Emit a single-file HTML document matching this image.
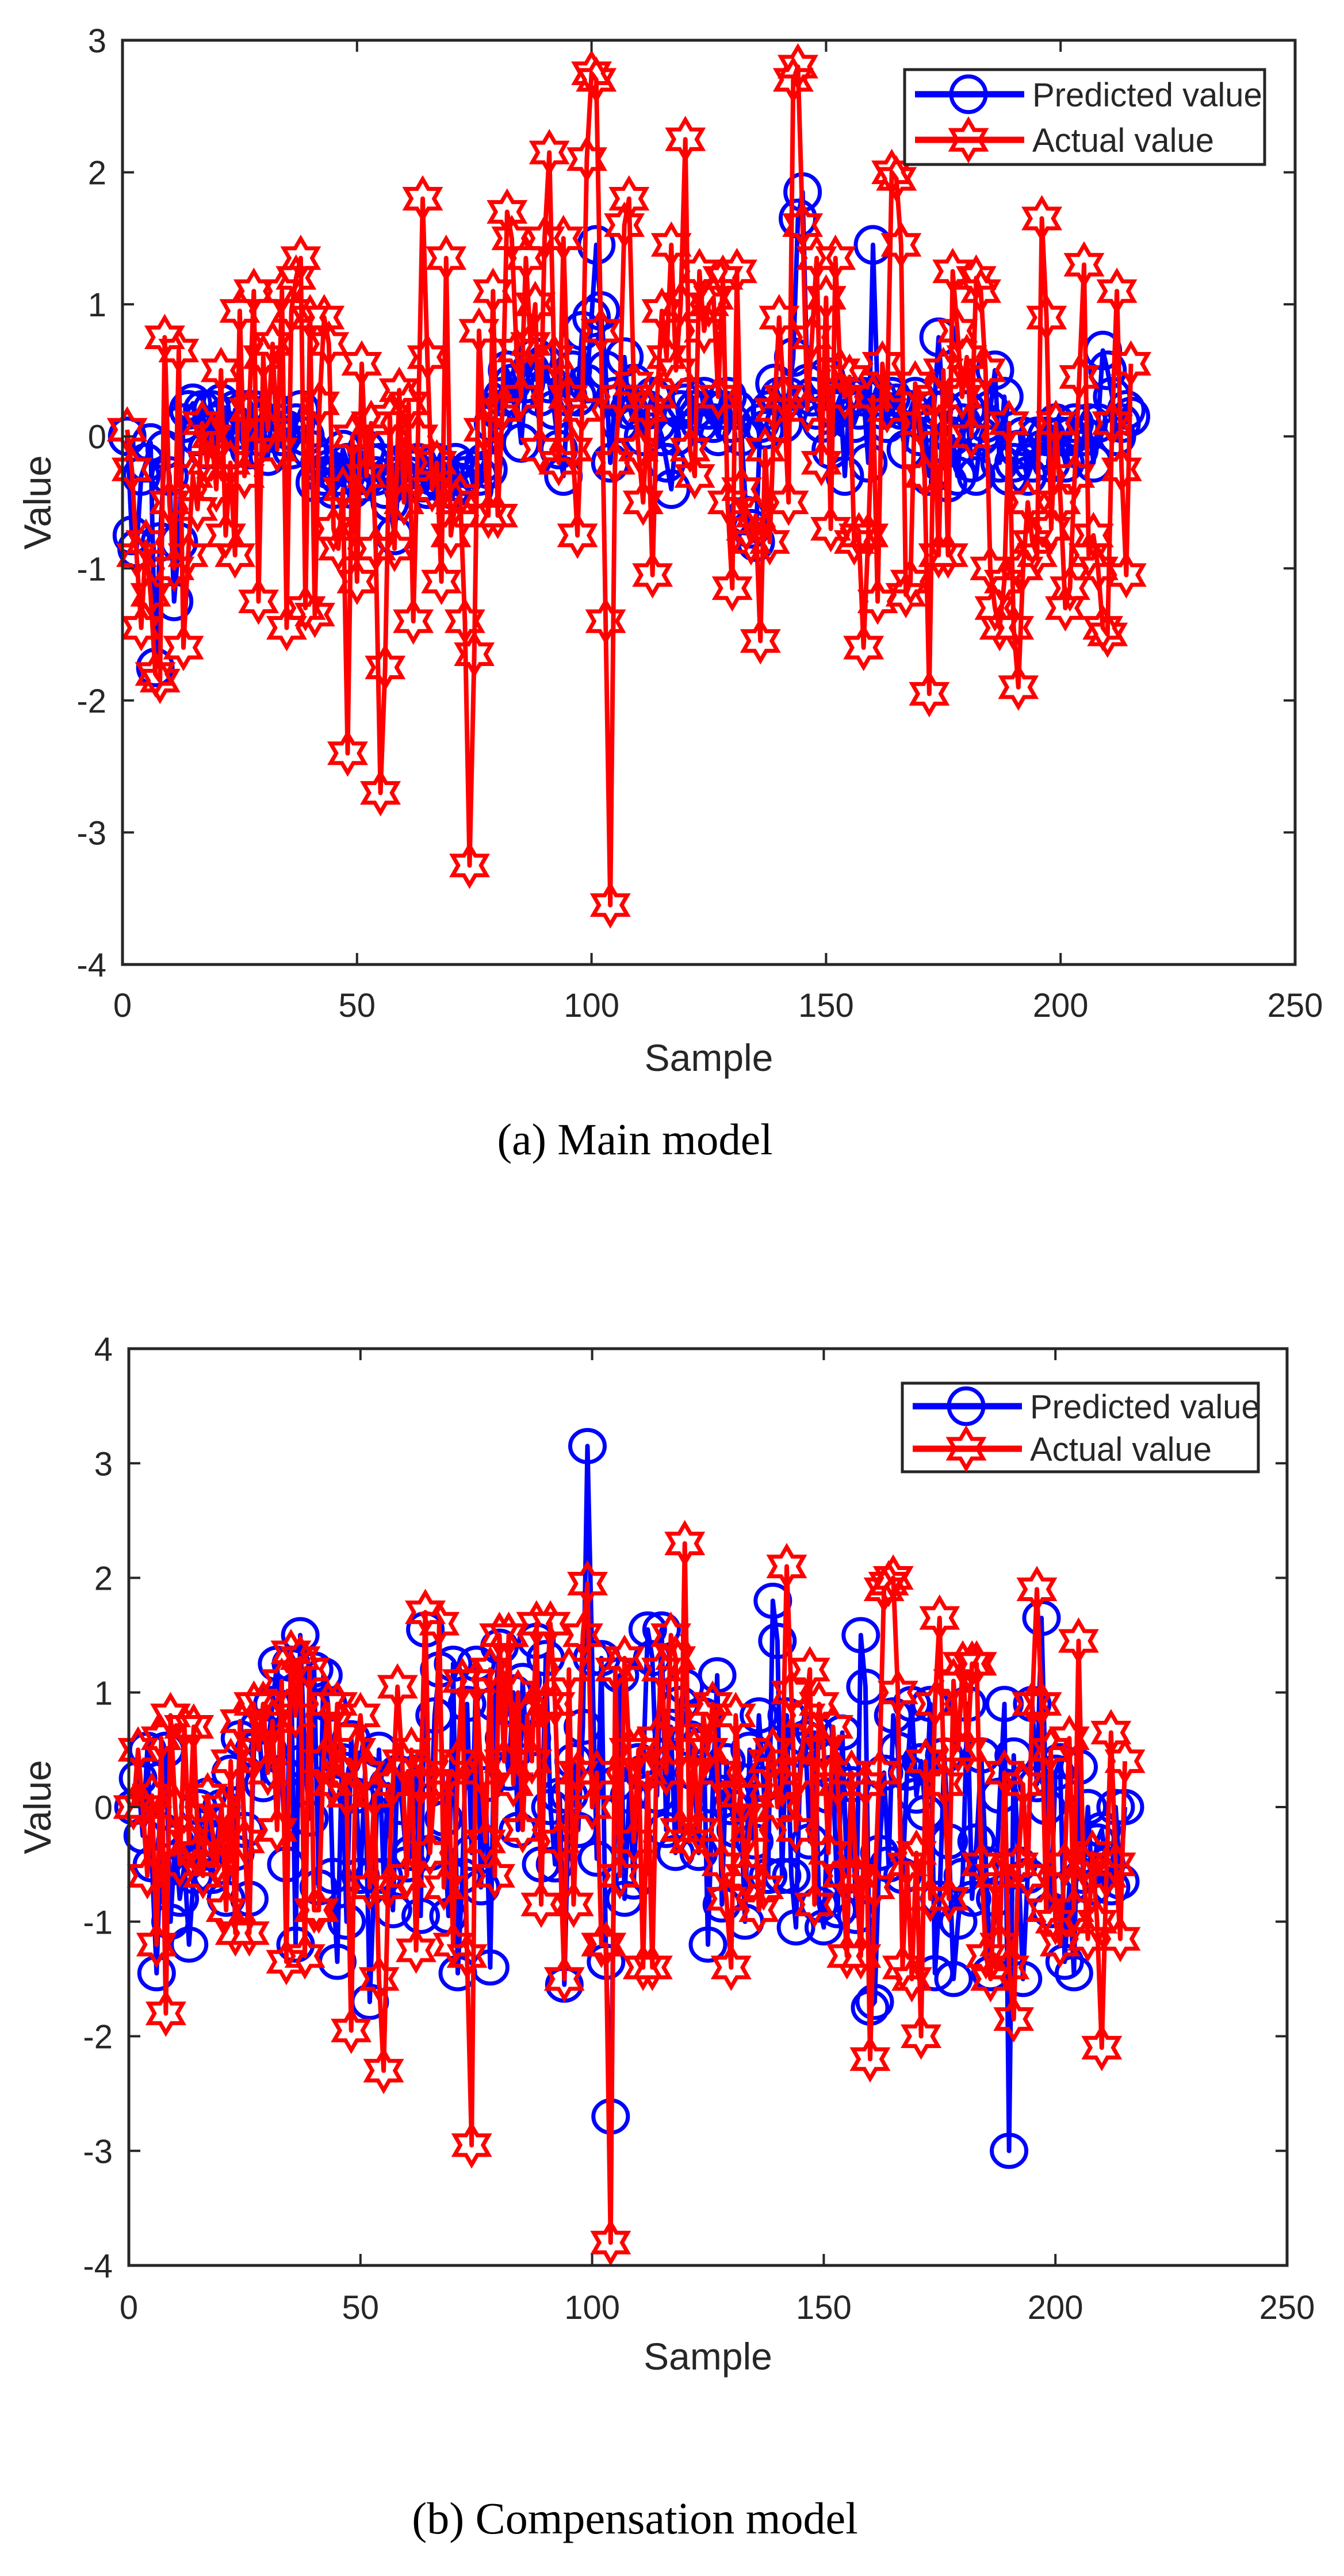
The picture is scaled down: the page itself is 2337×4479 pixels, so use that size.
<!DOCTYPE html>
<html><head><meta charset="utf-8"><style>
html,body{margin:0;padding:0;background:#fff;}
svg{display:block;}
text{font-family:"Liberation Sans",Arial,sans-serif;fill:#262626;}
.cap{font-family:"Liberation Serif","Times New Roman",serif;fill:#000;}
</style></head><body>
<svg id="fig" xmlns="http://www.w3.org/2000/svg" width="2337" height="4479" viewBox="0 0 2337 4479">
<rect x="0" y="0" width="2337" height="4479" fill="#fff"/>
<g id="chartA"></g>
<g id="chartB"></g>
<text class="cap" x="1104" y="2007" font-size="77" text-anchor="middle">(a) Main model</text>
<text class="cap" x="1104" y="4405" font-size="78" text-anchor="middle">(b) Compensation model</text>
</svg>
<script>
const xTicks = [0,50,100,150,200,250];
const yTicksA = [-4,-3,-2,-1,0,1,2,3];
const yTicksB = [-4,-3,-2,-1,0,1,2,3,4];
const legendLabels = ["Predicted value","Actual value"];

const actualA = [0.05,-0.25,-0.9,-1.45,-0.8,-1.2,-1.8,-1.85,0.75,-0.5,-1.0,0.65,-1.6,-0.9,-0.3,-0.55,0.1,-0.2,0.0,-0.4,
0.5,-0.75,-0.2,-0.9,0.95,-0.3,0.2,1.1,-1.25,0.6,0.05,0.7,-0.1,1.1,-1.45,0.95,1.2,1.35,-1.3,0.9,
-1.35,0.25,0.9,0.7,-0.7,-0.85,-0.4,-2.4,0.0,-1.1,0.55,-0.3,0.1,-0.85,-2.7,-1.75,0.15,-0.85,0.35,-0.5,
0.25,-1.4,0.0,1.8,0.6,-0.4,-0.2,-1.1,1.35,-0.75,-0.5,-0.45,-1.4,-3.25,-1.65,0.8,0.05,-0.6,1.1,-0.6,
0.2,1.7,1.5,0.65,0.3,1.35,0.7,1.0,-0.1,1.5,2.15,0.6,-0.2,1.5,0.3,-0.1,-0.75,0.2,2.1,2.75,
2.7,0.8,-1.4,-3.55,-0.2,0.3,1.6,1.8,0.4,-0.1,-0.5,0.2,-1.05,0.3,0.95,0.6,1.45,0.5,1.0,2.25,
-0.1,-0.3,1.25,0.8,1.0,1.05,0.3,1.2,-0.5,-1.15,1.25,-0.4,-0.7,-0.8,-0.6,-1.55,-0.1,-0.8,0.2,0.9,
0.3,-0.5,2.7,2.8,1.6,0.2,0.75,1.35,-0.2,1.05,-0.7,1.35,0.5,0.3,0.45,-0.8,-0.75,-1.6,-0.75,0.3,
-1.25,0.55,0.2,2.0,1.95,1.45,-1.2,-1.1,0.4,0.1,-0.3,-1.95,0.3,-0.9,0.5,-0.9,1.25,0.8,0.3,0.6,
0.0,1.2,1.1,0.5,-1.0,-1.3,-1.45,-1.1,0.1,-1.45,-1.9,-1.0,-0.5,-0.8,-0.9,1.65,0.9,-0.7,0.1,-0.5,
-1.3,-1.15,-0.3,0.45,1.3,-0.9,-0.75,-1.0,-1.45,-1.5,0.1,1.1,-0.25,-1.05,0.55];

const predA = [0.0,-0.75,-0.85,-0.3,-0.2,-0.05,-1.75,-0.8,-0.1,-0.3,-1.25,-0.8,0.1,0.2,0.25,0.0,0.2,-0.1,0.2,0.1,
0.25,0.15,-0.1,0.2,0.05,0.2,-0.1,0.2,0.0,0.1,-0.15,0.2,0.1,0.0,0.05,-0.1,0.1,0.2,0.0,-0.1,
-0.35,-0.2,-0.3,-0.25,-0.4,-0.3,-0.1,-0.2,-0.4,-0.3,-0.35,-0.1,-0.2,-0.3,-0.2,-0.4,-0.5,-0.75,-0.3,-0.2,
-0.3,-0.25,-0.2,-0.35,-0.4,-0.3,-0.2,-0.35,-0.3,-0.4,-0.2,-0.35,-0.3,-0.25,-0.4,-0.3,-0.2,-0.25,0.1,0.2,
0.3,0.5,0.4,0.3,-0.05,0.4,0.5,0.6,0.3,0.55,0.4,0.2,-0.1,-0.3,0.3,0.5,0.3,0.8,0.4,0.9,
1.45,0.95,0.5,-0.2,0.3,0.1,0.6,0.2,0.4,0.2,0.0,0.2,0.3,0.1,0.0,-0.2,-0.4,0.0,0.2,0.25,
0.3,0.2,0.1,0.3,0.2,0.1,0.0,0.2,0.3,0.1,0.2,0.0,-0.6,-0.7,-0.8,0.1,0.05,0.2,0.4,0.3,
0.1,0.3,0.6,1.65,1.85,0.4,0.3,0.2,0.1,0.45,-0.1,0.2,0.3,-0.3,0.3,0.1,0.2,0.3,-0.2,1.45,
0.3,0.2,0.1,0.3,0.25,0.2,-0.1,0.2,0.3,0.0,0.1,-0.3,0.2,0.75,0.2,-0.35,0.0,-0.3,0.1,0.2,
-0.2,-0.3,0.0,0.1,0.2,0.5,-0.2,0.3,-0.3,-0.2,-0.1,0.0,-0.3,-0.2,0.0,-0.1,0.0,-0.2,0.1,0.0,
-0.2,0.0,0.1,-0.1,0.0,0.1,-0.2,0.1,0.65,0.5,0.3,0.0,0.1,0.2,0.15];

const actualB = [0.0,0.5,0.0,-0.6,0.1,-1.2,0.6,-1.8,0.8,0.0,-0.5,0.7,-0.3,0.7,-0.4,-0.6,0.1,-0.2,-0.5,0.0,
-0.9,0.4,-1.1,0.75,-0.3,-1.1,0.9,0.5,0.9,0.3,0.75,-0.2,1.1,-1.35,1.35,0.8,1.3,-1.3,1.2,-0.9,
-0.9,0.4,0.9,0.2,0.9,0.3,0.1,-1.95,0.5,0.8,0.3,-0.7,0.1,-1.5,-2.3,-0.7,0.2,1.05,0.4,-0.6,
0.5,-1.25,0.2,1.7,-0.4,0.2,1.6,-0.7,0.3,-1.2,0.4,1.1,-1.3,-2.95,1.1,0.3,-0.3,1.2,-0.6,1.5,
0.4,1.5,0.2,1.0,-0.2,0.8,0.4,1.6,-0.85,0.9,1.6,0.9,-0.3,-1.5,1.2,-0.85,0.3,1.5,1.95,0.0,
0.3,-1.2,-1.2,-3.8,1.2,-0.6,1.3,0.5,-0.3,0.5,-1.4,0.3,-1.4,0.6,1.2,0.3,1.5,1.3,-0.2,2.3,
-0.3,0.5,-0.2,0.8,0.5,0.9,0.3,-0.5,-0.8,-1.4,0.8,0.1,-0.6,-0.2,0.1,-0.9,-0.7,0.4,0.5,0.0,
0.2,2.1,1.0,-0.2,0.3,0.8,1.2,-0.85,0.9,0.5,-0.4,0.7,0.2,-0.6,-1.3,0.3,-0.6,-1.3,0.2,-2.2,
-0.7,0.3,1.9,1.95,2.0,1.0,-1.4,-0.5,-1.5,-0.4,-2.0,0.4,-0.8,0.9,1.65,0.2,-0.8,1.1,0.5,1.25,
0.5,1.25,1.25,-0.5,-1.3,-1.5,-0.6,-1.2,0.3,-1.4,-1.85,-0.5,0.2,-0.6,0.9,1.9,0.9,-0.9,0.5,-1.0,
-1.2,-0.5,0.6,-0.9,1.45,-0.5,-1.15,-0.4,-1.0,-2.1,-0.6,0.65,-0.5,-1.15,0.4];

const predB = [0.0,0.25,-0.25,0.5,-0.5,-1.45,-0.2,0.5,-1.0,-0.3,-0.8,-0.5,-1.2,-0.6,0.0,-0.4,0.1,-0.6,-0.3,0.0,
-0.8,0.3,-0.4,0.6,-0.2,-0.8,0.5,0.7,0.2,0.5,0.9,1.25,0.3,-0.5,1.25,-1.2,1.5,0.4,-0.1,1.2,
-0.7,1.15,0.9,-0.6,-1.35,0.4,-1.0,0.6,0.1,-0.6,0.3,-1.7,-0.6,0.5,-0.6,0.2,-0.9,0.3,0.0,-0.5,
-0.4,0.3,-0.95,1.55,-0.4,0.8,1.2,-0.1,-0.95,1.25,-1.45,-0.6,0.9,-0.4,1.25,-0.7,0.2,-1.4,0.9,1.4,
0.6,0.3,1.0,-0.2,1.1,0.4,0.6,1.45,-0.5,1.3,0.0,-0.5,0.1,-1.55,0.1,0.4,-0.2,0.7,3.15,1.3,
-0.45,1.3,-1.35,-2.7,0.2,1.15,-0.8,0.1,-0.65,0.4,0.3,1.55,1.3,0.1,1.55,-0.2,0.7,-0.4,0.9,1.05,
0.6,0.3,-0.4,0.8,-1.2,0.1,1.15,-0.85,0.4,0.0,-0.2,0.1,-1.0,0.5,-0.3,0.8,0.2,-0.6,1.8,1.45,
-0.6,0.8,-0.6,-1.05,0.5,0.6,-0.3,0.65,-0.85,-1.05,0.1,0.3,-0.9,0.65,-0.6,0.2,-0.95,1.5,1.05,-1.75,
-1.7,-0.4,0.3,-0.5,0.8,0.5,-0.6,0.3,0.9,0.1,0.4,-0.05,0.9,-1.45,-0.8,0.45,-0.3,-1.5,-1.0,-0.6,
0.9,-0.8,-0.3,0.45,-0.5,-1.45,-0.8,0.1,0.9,-3.0,0.45,-0.5,-1.5,-0.6,0.9,0.2,1.65,0.0,-0.9,0.3,
0.4,-1.35,-0.7,-1.45,0.35,-0.6,0.0,-0.7,-0.3,-0.2,-0.5,-0.7,0.0,-0.65,0.0];

const NS = "http://www.w3.org/2000/svg";
function mk(parent, tag, attrs){
  const e = document.createElementNS(NS, tag);
  for (const k in attrs) e.setAttribute(k, attrs[k]);
  parent.appendChild(e);
  return e;
}
function hexagram(cx, cy, R){
  const r = R*0.58, pts = [];
  for (let i=0;i<12;i++){
    const a = -Math.PI/2 + i*Math.PI/6;
    const rr = i%2===0 ? R : r;
    pts.push((cx+rr*Math.cos(a)).toFixed(1)+","+(cy+rr*Math.sin(a)).toFixed(1));
  }
  return pts.join(" ");
}
function drawChart(g, cfg, yTicks, pred, act){
  const X = v => cfg.left + (v - 0)/(250-0)*(cfg.right-cfg.left);
  const Y = v => cfg.bottom - (v - yTicks[0])/(yTicks[yTicks.length-1]-yTicks[0])*(cfg.bottom-cfg.top);
  const plot = mk(g,"g",{});
  
  
  const series = [
    {data:pred, color:"#0000ff", name:"predicted-series", marker:"circle"},
    {data:act, color:"#ff0000", name:"actual-series", marker:"star"}
  ];
  series.forEach(s=>{
    const sg = mk(plot,"g",{});
    
    
    const d = s.data.map((v,i)=>(i?"L":"M")+X(i+1).toFixed(1)+","+Y(v).toFixed(1)).join("");
    const ln = mk(sg,"path",{d:d, fill:"none", stroke:s.color, "stroke-width":8, "stroke-linejoin":"round"});
    
    
    s.data.forEach((v,i)=>{
      let m;
      if (s.marker==="circle"){
        m = mk(sg,"ellipse",{cx:X(i+1).toFixed(1), cy:Y(v).toFixed(1), rx:30, ry:cfg.mry, fill:"none", stroke:s.color, "stroke-width":7});
      } else {
        m = mk(sg,"polygon",{points:hexagram(X(i+1), Y(v), 34), fill:"none", stroke:s.color, "stroke-width":7, "stroke-linejoin":"miter"});
      }
      
      
    });
  });
  const box = mk(g,"rect",{x:cfg.left, y:cfg.top, width:cfg.right-cfg.left, height:cfg.bottom-cfg.top, fill:"none", stroke:"#262626", "stroke-width":5});
  
  
  xTicks.forEach(t=>{
    const x = X(t);
    mk(g,"line",{x1:x,y1:cfg.bottom,x2:x,y2:cfg.bottom-20,stroke:"#262626","stroke-width":4});
    mk(g,"line",{x1:x,y1:cfg.top,x2:x,y2:cfg.top+20,stroke:"#262626","stroke-width":4});
    const tx = mk(g,"text",{x:x, y:cfg.xLabY, "font-size":58, "text-anchor":"middle"});
    tx.textContent = t;
    
    
  });
  yTicks.forEach(t=>{
    const y = Y(t);
    mk(g,"line",{x1:cfg.left,y1:y,x2:cfg.left+20,y2:y,stroke:"#262626","stroke-width":4});
    mk(g,"line",{x1:cfg.right,y1:y,x2:cfg.right-20,y2:y,stroke:"#262626","stroke-width":4});
    const ty = mk(g,"text",{x:cfg.left-28, y:y+21, "font-size":58, "text-anchor":"end"});
    ty.textContent = t;
    
    
  });
  const xt = mk(g,"text",{x:(cfg.left+cfg.right)/2, y:cfg.xTitleY, "font-size":66, "text-anchor":"middle"});
  xt.textContent = "Sample";
  
  
  const cy = (cfg.top+cfg.bottom)/2;
  const yt = mk(g,"text",{x:0, y:0, "font-size":66, "text-anchor":"middle", transform:"translate(88,"+cy+") rotate(-90)"});
  yt.textContent = "Value";
  
  
  const lg = mk(g,"g",{});
  
  
  mk(lg,"rect",{x:cfg.lg.x, y:cfg.lg.y, width:cfg.lg.w, height:cfg.lg.h, fill:"#fff", stroke:"#262626", "stroke-width":5});
  const rows = [cfg.lg.y + cfg.lg.h*0.26, cfg.lg.y + cfg.lg.h*0.74];
  legendLabels.forEach((lab,i)=>{
    const e = mk(lg,"g",{});
    
    
    const col = i===0 ? "#0000ff" : "#ff0000";
    const y = rows[i];
    mk(e,"line",{x1:cfg.lg.x+18,y1:y,x2:cfg.lg.x+208,y2:y,stroke:col,"stroke-width":11});
    if (i===0) mk(e,"ellipse",{cx:cfg.lg.x+111,cy:y,rx:30,ry:31,fill:"none",stroke:col,"stroke-width":7});
    else mk(e,"polygon",{points:hexagram(cfg.lg.x+111,y,34),fill:"none",stroke:col,"stroke-width":7});
    const t = mk(e,"text",{x:cfg.lg.x+222, y:y+21, "font-size":58, fill:"#000"});
    t.textContent = lab;
  });
}
drawChart(document.getElementById("chartA"),
  {left:213,right:2252,top:70,bottom:1677,xLabY:1768,xTitleY:1862,mry:31,
   lg:{x:1573,y:121,w:626,h:165}}, yTicksA, predA, actualA);
drawChart(document.getElementById("chartB"),
  {left:224,right:2238,top:2345,bottom:3939,xLabY:4032,xTitleY:4120,mry:28,
   lg:{x:1569,y:2405,w:619,h:154}}, yTicksB, predB, actualB);
</script>
</body></html>
